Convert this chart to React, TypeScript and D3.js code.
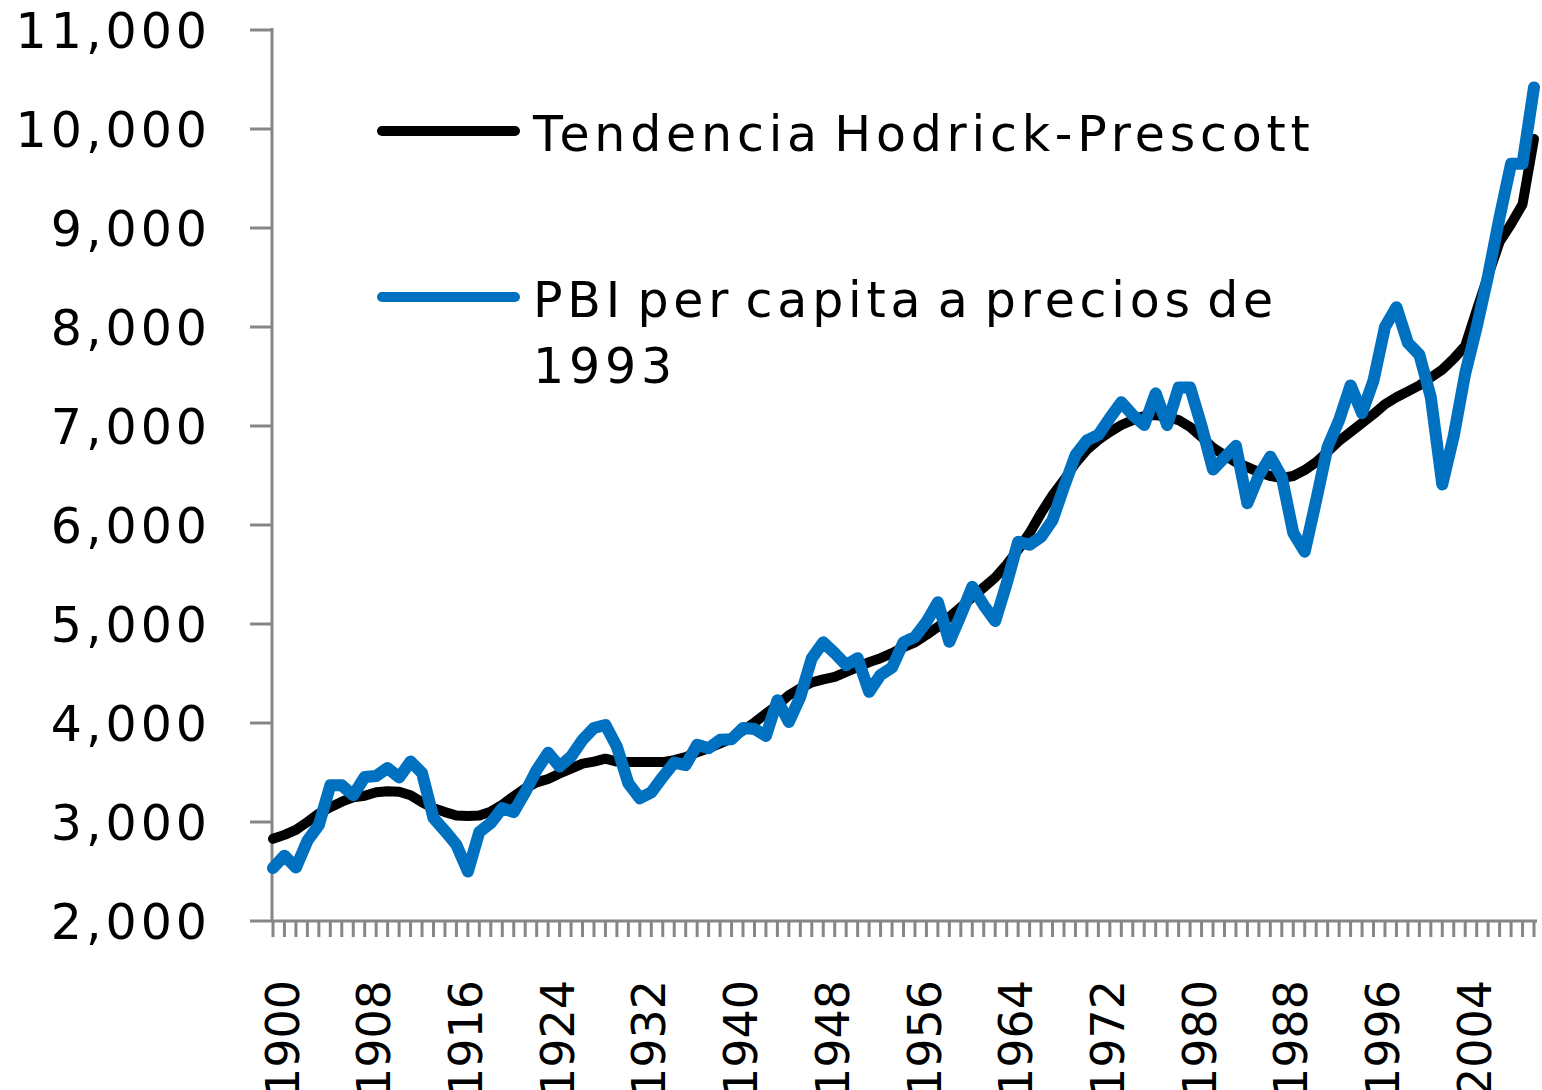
import React from "react";
import * as d3 from "d3";

const years: number[] = d3.range(1900, 2011);

const pbiPerCapita: number[] = [
  2535, 2660, 2540, 2810, 2970, 3370, 3370, 3270, 3455, 3465,
  3545, 3450, 3610, 3495, 3040, 2910, 2770, 2500, 2900, 2990,
  3140, 3100, 3300, 3525, 3700, 3560, 3660, 3830, 3950, 3980,
  3760, 3390, 3240, 3300, 3455, 3600, 3575, 3780, 3745, 3830,
  3835, 3950, 3940, 3870, 4230, 4010, 4265, 4655, 4815, 4705,
  4585, 4655, 4315, 4485, 4560, 4815, 4870, 5020, 5220, 4820,
  5090, 5375, 5190, 5030, 5410, 5830, 5800, 5880, 6050, 6385,
  6705, 6855, 6910, 7080, 7240, 7110, 7010, 7330, 7010, 7390,
  7390, 7000, 6560, 6680, 6800, 6220, 6500, 6690, 6485, 5920,
  5730, 6250, 6790, 7060, 7410, 7130, 7460, 8000, 8200, 7840,
  7720, 7290, 6410, 6900, 7530, 8000, 8520, 9110, 9650, 9650,
  10420,
];

const hpTrend: number[] = [
  2830, 2870, 2920, 3000, 3085, 3150, 3205, 3250, 3265, 3300,
  3310, 3305, 3270, 3200, 3140, 3100, 3065, 3060, 3065, 3105,
  3175, 3260, 3340, 3400, 3435, 3490, 3540, 3590, 3610, 3640,
  3610, 3605, 3605, 3605, 3605, 3625, 3655, 3705, 3745, 3795,
  3845, 3925, 4005, 4095, 4180, 4280, 4350, 4410, 4440, 4465,
  4515, 4565, 4615, 4655, 4705, 4765, 4815, 4890, 4970, 5070,
  5170, 5270, 5370, 5470, 5600, 5750, 5920, 6120, 6300, 6455,
  6625, 6760, 6860, 6940, 7010, 7060, 7100, 7110, 7090, 7060,
  6990, 6890, 6780, 6705, 6635, 6585, 6535, 6495, 6475, 6495,
  6555, 6635, 6740, 6850, 6940, 7030, 7120, 7220, 7290, 7350,
  7410, 7490, 7570, 7680, 7810, 8170, 8520, 8860, 9040, 9240,
  9900,
];

const yTicks: number[] = [2000, 3000, 4000, 5000, 6000, 7000, 8000, 9000, 10000, 11000];
const xLabelYears: number[] = [1900, 1908, 1916, 1924, 1932, 1940, 1948, 1956, 1964, 1972, 1980, 1988, 1996, 2004];

const legendTrend = "Tendencia Hodrick-Prescott";
const legendPbiLine1 = "PBI per capita a precios de";
const legendPbiLine2 = "1993";

const FONT = "'DejaVu Sans', Verdana, sans-serif";
const AXIS = "#868686";
const BLUE = "#0070C0";

export default function App() {
  const W = 1542;
  const H = 1090;
  const x = d3.scalePoint<number>().domain(years).range([273, 1534]);
  const y = d3.scaleLinear().domain([2000, 11000]).range([921, 30]);
  const fmt = d3.format(",");

  const line = d3
    .line<number>()
    .x((_, i) => x(years[i]) as number)
    .y((d) => y(d));

  return (
    <svg
      width={W}
      height={H}
      style={{ position: "absolute", left: 0, top: 0, display: "block", background: "#fff" }}
      fontFamily={FONT}
    >
      {/* Y axis */}
      <line x1={272} x2={272} y1={y(11000) - 2} y2={y(2000)} stroke={AXIS} strokeWidth={3} />
      {yTicks.map((t) => (
        <g key={t}>
          <line x1={250} x2={272} y1={y(t)} y2={y(t)} stroke={AXIS} strokeWidth={3} />
          <text
            x={211}
            y={y(t)}
            dy="0.36em"
            textAnchor="end"
            fontSize={49}
            letterSpacing={4}
            fill="#000"
          >
            {fmt(t)}
          </text>
        </g>
      ))}

      {/* X axis */}
      <line x1={271} x2={(x(2010) as number) + 3} y1={y(2000)} y2={y(2000)} stroke={AXIS} strokeWidth={3} />
      {years.map((yr) => (
        <line
          key={yr}
          x1={x(yr) as number}
          x2={x(yr) as number}
          y1={y(2000)}
          y2={y(2000) + 16}
          stroke={AXIS}
          strokeWidth={3}
        />
      ))}
      {xLabelYears.map((yr) => (
        <text
          key={yr}
          transform={`translate(${(x(yr) as number) + 9},980) rotate(-90)`}
          dy="0.36em"
          textAnchor="end"
          fontSize={46}
          fill="#000"
        >
          {yr}
        </text>
      ))}

      {/* Series */}
      <path
        d={line(hpTrend) || ""}
        fill="none"
        stroke="#000"
        strokeWidth={10}
        strokeLinejoin="round"
        strokeLinecap="round"
      />
      <path
        d={line(pbiPerCapita) || ""}
        fill="none"
        stroke={BLUE}
        strokeWidth={12}
        strokeLinejoin="round"
        strokeLinecap="round"
      />

      {/* Legend */}
      <line x1={382} x2={515} y1={131} y2={131} stroke="#000" strokeWidth={10} strokeLinecap="round" />
      <text x={533} y={151} fontSize={49} letterSpacing={4.8} wordSpacing={-8} fill="#000">
        {legendTrend}
      </text>
      <line x1={382} x2={515} y1={297} y2={297} stroke={BLUE} strokeWidth={10} strokeLinecap="round" />
      <text x={533} y={317} fontSize={49} letterSpacing={4.8} wordSpacing={-8} fill="#000">
        {legendPbiLine1}
      </text>
      <text x={533} y={383} fontSize={49} letterSpacing={4.8} fill="#000">
        {legendPbiLine2}
      </text>
    </svg>
  );
}
